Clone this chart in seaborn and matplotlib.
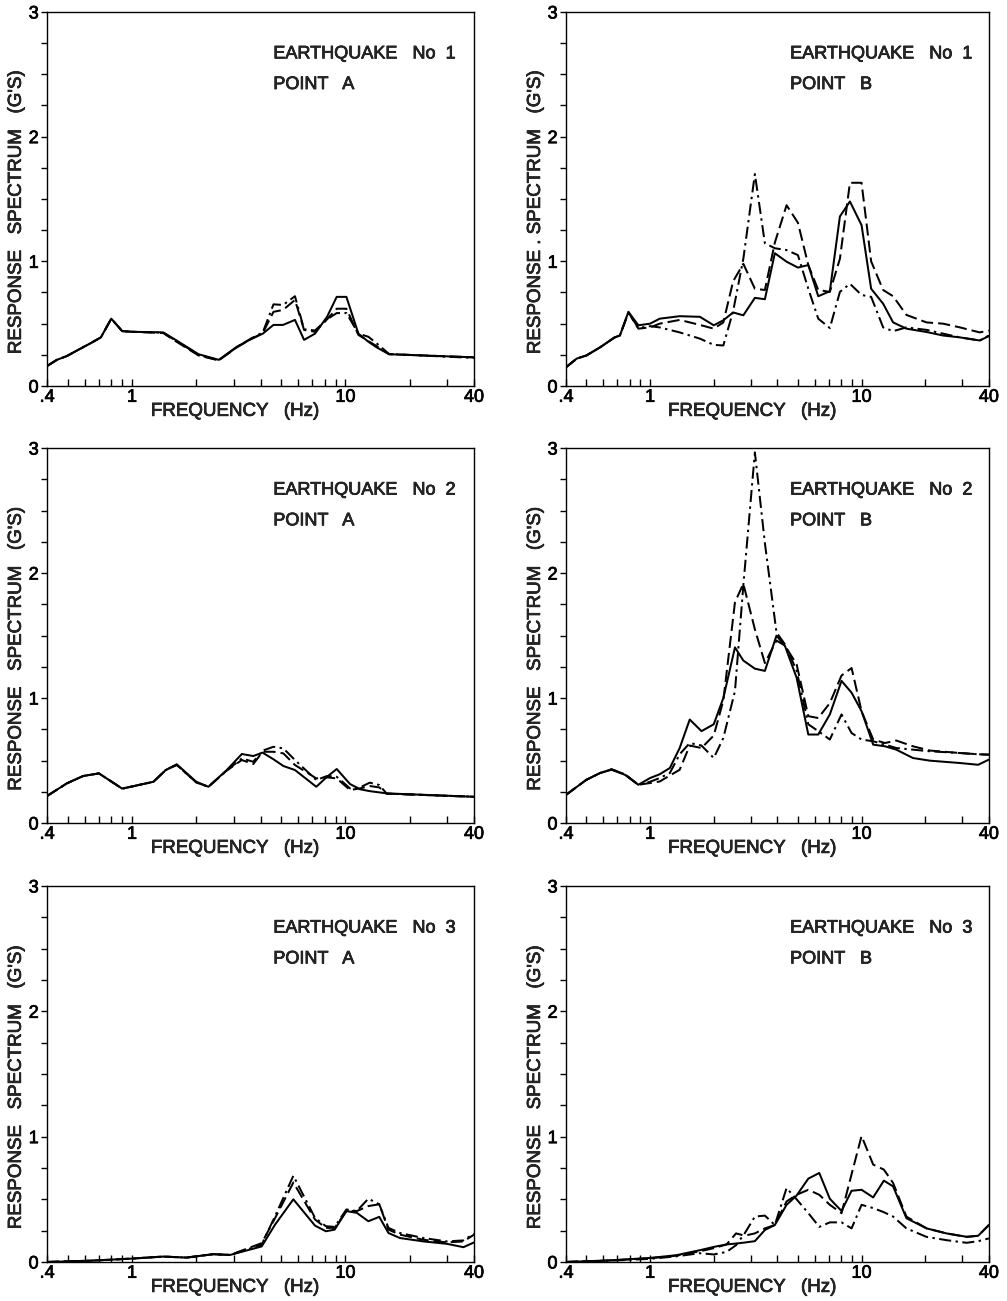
import numpy as np
import pandas as pd
import matplotlib
matplotlib.use("Agg")
import matplotlib.pyplot as plt
import matplotlib.patheffects as pe
import seaborn as sns
from matplotlib.ticker import FixedLocator, NullFormatter

# ---------------- data ----------------
# Earthquake 1, point A
freq_1A = [0.4, 0.445, 0.495, 0.56, 0.635, 0.715, 0.8, 0.9, 1.0, 1.4, 1.6, 2.05, 2.55, 3.1, 3.6,
           4.1, 4.6, 5.1, 5.8, 6.4, 7.2, 8.2, 9.1, 10.1, 11.5, 12.8, 14.0, 16.0, 40]
solid_1A = [0.16, 0.21, 0.24, 0.29, 0.34, 0.39, 0.54, 0.44, 0.435, 0.43, 0.37, 0.255, 0.21, 0.315, 0.375,
            0.42, 0.49, 0.49, 0.53, 0.37, 0.42, 0.555, 0.715, 0.715, 0.42, 0.355, 0.31, 0.255, 0.23]
dashed_1A = [0.16, 0.21, 0.24, 0.29, 0.34, 0.39, 0.54, 0.44, 0.435, 0.425, 0.36, 0.245, 0.205, 0.31, 0.375,
             0.425, 0.595, 0.61, 0.69, 0.45, 0.435, 0.535, 0.62, 0.62, 0.41, 0.36, 0.32, 0.255, 0.23]
dashdot_1A = [0.16, 0.21, 0.24, 0.29, 0.34, 0.39, 0.54, 0.44, 0.435, 0.428, 0.365, 0.25, 0.207, 0.312, 0.38,
              0.43, 0.655, 0.65, 0.72, 0.455, 0.445, 0.535, 0.585, 0.585, 0.42, 0.395, 0.342, 0.257, 0.225]

# Earthquake 1, point B
freq_1B = [0.4, 0.45, 0.5, 0.58, 0.68, 0.72, 0.79, 0.88, 1.0, 1.11,
           1.38, 1.72, 2.0, 2.22, 2.47, 2.76, 3.13, 3.49, 3.89, 4.42,
           5.0, 5.6, 6.24, 7.08, 7.9, 8.81, 10.0, 11.1, 12.65, 14.1,
           16.3, 20.3, 24.3, 29.2, 36.2, 40]
solid_1B = [0.15, 0.22, 0.245, 0.31, 0.39, 0.405, 0.595, 0.487, 0.50, 0.54,
            0.56, 0.555, 0.487, 0.527, 0.59, 0.567, 0.707, 0.696, 1.065, 0.997,
            0.95, 0.97, 0.72, 0.76, 1.36, 1.48, 1.29, 0.78, 0.66, 0.51,
            0.46, 0.433, 0.405, 0.39, 0.365, 0.40]
dashed_1B = [0.15, 0.22, 0.245, 0.31, 0.39, 0.405, 0.59, 0.46, 0.47, 0.50,
             0.53, 0.49, 0.46, 0.51, 0.84, 0.98, 0.78, 0.77, 1.15, 1.45,
             1.31, 0.97, 0.77, 0.755, 1.02, 1.63, 1.63, 1.0, 0.77, 0.72,
             0.57, 0.51, 0.50, 0.47, 0.43, 0.445]
dashdot_1B = [0.15, 0.22, 0.245, 0.31, 0.39, 0.405, 0.59, 0.465, 0.48, 0.47,
              0.43, 0.38, 0.33, 0.325, 0.60, 1.02, 1.70, 1.145, 1.105, 1.09,
              1.05, 0.78, 0.54, 0.465, 0.755, 0.82, 0.73, 0.715, 0.47, 0.44,
              0.47, 0.45, 0.42, 0.39, 0.365, 0.405]

# Earthquake 2, point A
freq_2A = [0.4, 0.495, 0.59, 0.70, 0.9, 1.26, 1.44, 1.62, 2.0, 2.28, 2.78, 3.27, 3.7,
           4.09, 4.6, 5.12, 5.8, 7.3, 8.2, 9.1, 10.5, 11.7, 13.0, 14.4, 15.6, 40]
solid_2A = [0.216, 0.317, 0.376, 0.397, 0.275, 0.33, 0.424, 0.47, 0.33, 0.29, 0.424, 0.552, 0.536,
            0.563, 0.51, 0.456, 0.424, 0.29, 0.37, 0.432, 0.312, 0.27, 0.255, 0.245, 0.237, 0.21]
dashed_2A = [0.216, 0.317, 0.376, 0.397, 0.275, 0.33, 0.424, 0.465, 0.325, 0.29, 0.42, 0.504, 0.472,
             0.57, 0.57, 0.557, 0.464, 0.357, 0.365, 0.357, 0.264, 0.277, 0.296, 0.285, 0.235, 0.21]
dashdot_2A = [0.216, 0.317, 0.376, 0.397, 0.275, 0.33, 0.424, 0.465, 0.325, 0.29, 0.42, 0.517, 0.49,
              0.579, 0.61, 0.597, 0.504, 0.344, 0.376, 0.37, 0.277, 0.285, 0.323, 0.304, 0.235, 0.21]

# Earthquake 2, point B
freq_2B = [0.4, 0.5, 0.58, 0.657, 0.76, 0.88, 1.0, 1.11, 1.24, 1.38,
           1.54, 1.75, 2.0, 2.22, 2.52, 2.76, 3.13, 3.49, 3.96, 4.34,
           4.93, 5.6, 6.24, 7.08, 8.04, 8.97, 10.0, 11.35, 12.9, 14.6,
           17.5, 21.0, 29.2, 35.6, 40]
solid_2B = [0.225, 0.346, 0.40, 0.426, 0.386, 0.306, 0.36, 0.39, 0.44, 0.60,
            0.828, 0.735, 0.79, 1.0, 1.405, 1.30, 1.235, 1.217, 1.499, 1.418,
            1.163, 0.708, 0.708, 0.869, 1.137, 1.043, 0.895, 0.627, 0.614, 0.587,
            0.52, 0.499, 0.48, 0.466, 0.507]
dashed_2B = [0.225, 0.346, 0.40, 0.43, 0.39, 0.306, 0.32, 0.332, 0.38, 0.426,
             0.62, 0.60, 0.70, 0.98, 1.767, 1.914, 1.55, 1.28, 1.46, 1.42,
             1.27, 0.855, 0.84, 0.96, 1.18, 1.24, 0.895, 0.668, 0.64, 0.66,
             0.614, 0.58, 0.56, 0.55, 0.547]
dashdot_2B = [0.225, 0.346, 0.40, 0.43, 0.39, 0.306, 0.33, 0.36, 0.40, 0.55,
              0.64, 0.62, 0.52, 0.68, 1.056, 1.9, 2.965, 2.24, 1.525, 1.43,
              1.22, 0.79, 0.735, 0.668, 0.869, 0.72, 0.668, 0.654, 0.627, 0.60,
              0.587, 0.574, 0.56, 0.55, 0.547]

# Earthquake 3, point A
freq_3A = [0.4, 0.636, 1.0, 1.4, 1.8, 2.4, 2.88, 4.05, 4.68, 5.7, 7.2, 8.1, 8.9, 10.1, 11.3,
           12.8, 14.4, 15.9, 18.0, 23.2, 29.8, 35.7, 40]
solid_3A = [0.0, 0.01, 0.027, 0.043, 0.035, 0.062, 0.056, 0.124, 0.298, 0.50, 0.29, 0.245, 0.258, 0.406,
            0.392, 0.325, 0.36, 0.231, 0.191, 0.164, 0.145, 0.118, 0.156]
dashed_3A = [0.0, 0.01, 0.027, 0.043, 0.035, 0.062, 0.056, 0.15, 0.35, 0.634, 0.339, 0.272, 0.272, 0.406,
             0.406, 0.446, 0.46, 0.258, 0.218, 0.177, 0.156, 0.164, 0.218]
dashdot_3A = [0.0, 0.01, 0.027, 0.043, 0.035, 0.062, 0.056, 0.137, 0.366, 0.688, 0.352, 0.285, 0.28, 0.419,
              0.406, 0.505, 0.46, 0.272, 0.231, 0.191, 0.164, 0.172, 0.226]

# Earthquake 3, point B
freq_3B = [0.4, 0.646, 1.0, 1.33, 1.72, 2.0, 2.3, 2.55, 2.8, 3.13,
           3.49, 3.89, 4.42, 4.93, 5.6, 6.31, 7.08, 8.04, 8.97, 10.0,
           11.35, 12.75, 14.1, 16.3, 20.3, 25.2, 31.4, 35.6, 40]
solid_3B = [0.0, 0.013, 0.032, 0.054, 0.094, 0.12, 0.14, 0.147, 0.155, 0.166,
            0.255, 0.295, 0.456, 0.53, 0.665, 0.71, 0.504, 0.407, 0.568, 0.576,
            0.515, 0.649, 0.603, 0.349, 0.268, 0.228, 0.201, 0.209, 0.295]
dashed_3B = [0.0, 0.012, 0.03, 0.05, 0.085, 0.11, 0.14, 0.228, 0.21, 0.228,
             0.268, 0.295, 0.483, 0.536, 0.576, 0.536, 0.456, 0.389, 0.70, 1.005,
             0.777, 0.737, 0.63, 0.362, 0.268, 0.228, 0.2, 0.209, 0.295]
dashdot_3B = [0.0, 0.01, 0.025, 0.045, 0.07, 0.06, 0.08, 0.134, 0.228, 0.362,
              0.37, 0.295, 0.59, 0.50, 0.39, 0.28, 0.316, 0.316, 0.268, 0.456,
              0.43, 0.397, 0.362, 0.268, 0.2, 0.174, 0.153, 0.166, 0.188]

x_major = [0.4, 1, 10, 40]
x_major_labels = [".4", "1", "10", "40"]
x_minor = [0.5, 0.6, 0.7, 0.8, 0.9, 2, 3, 4, 5, 6, 7, 8, 9, 20, 30]
y_major = [0, 1, 2, 3]

titles = [("EARTHQUAKE   No  1", "POINT   A"), ("EARTHQUAKE   No  1", "POINT   B"),
          ("EARTHQUAKE   No  2", "POINT   A"), ("EARTHQUAKE   No  2", "POINT   B"),
          ("EARTHQUAKE   No  3", "POINT   A"), ("EARTHQUAKE   No  3", "POINT   B")]
ylabels = ["RESPONSE   SPECTRUM   (G'S)", "RESPONSE . SPECTRUM   (G'S)",
           "RESPONSE   SPECTRUM   (G'S)", "RESPONSE   SPECTRUM   (G'S)",
           "RESPONSE   SPECTRUM   (G'S)", "RESPONSE   SPECTRUM   (G'S)"]
xlabel = "FREQUENCY   (Hz)"

panels = [
    (freq_1A, solid_1A, dashed_1A, dashdot_1A),
    (freq_1B, solid_1B, dashed_1B, dashdot_1B),
    (freq_2A, solid_2A, dashed_2A, dashdot_2A),
    (freq_2B, solid_2B, dashed_2B, dashdot_2B),
    (freq_3A, solid_3A, dashed_3A, dashdot_3A),
    (freq_3B, solid_3B, dashed_3B, dashdot_3B),
]

# ---------------- styling ----------------
sns.set_theme(style="ticks")
plt.rcParams["font.family"] = ["Liberation Sans", "DejaVu Sans"]
plt.rcParams["axes.linewidth"] = 1.0

heavy = [pe.withStroke(linewidth=0.5, foreground="black")]

fig = plt.figure(figsize=(10.07, 13.01), dpi=100)

lefts = [0.0467, 0.562]
widths = [0.424, 0.420]
bottoms = [0.7033, 0.3674, 0.0300]
heights = [0.2875, 0.2882, 0.2890]

dash_map = {"solid": "", "dashed": (6, 2.5), "dashdot": (6, 2.2, 1.2, 2.2)}

for i, (freq, s, d, dd) in enumerate(panels):
    r, c = divmod(i, 2)
    ax = fig.add_axes([lefts[c], bottoms[r], widths[c], heights[r]])
    n = len(freq)
    df = pd.DataFrame({
        "freq": np.tile(freq, 3),
        "value": np.concatenate([s, d, dd]),
        "series": np.repeat(["solid", "dashed", "dashdot"], n),
    })
    sns.lineplot(data=df, x="freq", y="value", style="series",
                 style_order=["dashdot", "dashed", "solid"],
                 dashes=dash_map, color="black", linewidth=1.45,
                 estimator=None, sort=False, legend=False, ax=ax)
    ax.set_xscale("log")
    ax.set_xlim(0.4, 40)
    ax.set_ylim(0, 3)
    ax.set_xticks(x_major)
    ax.set_xticklabels(x_major_labels)
    ax.xaxis.set_minor_locator(FixedLocator(x_minor))
    ax.xaxis.set_minor_formatter(NullFormatter())
    ax.set_yticks(y_major)
    ax.set_yticks(np.arange(0, 3.01, 0.25), minor=True)
    ax.tick_params(axis="x", which="both", direction="in", length=5, width=1,
                   pad=2, labelsize=13, top=False, colors="black")
    ax.tick_params(axis="y", which="both", direction="out", length=4, width=1,
                   pad=2, labelsize=13, right=False, colors="black")
    for sp in ax.spines.values():
        sp.set_color("black")
        sp.set_linewidth(1.0)
    ax.set_xlabel(xlabel, fontsize=13.5, path_effects=heavy)
    ax.xaxis.set_label_coords(0.44, -0.045)
    ax.set_ylabel(ylabels[i], fontsize=13.5, path_effects=heavy)
    ax.yaxis.set_label_coords(-0.052, 0.465)
    for lab in ax.get_xticklabels() + ax.get_yticklabels():
        lab.set_path_effects(heavy)
    t1, t2 = titles[i]
    ax.text(0.53, 0.888, t1, transform=ax.transAxes, ha="left", va="center",
            fontsize=13, path_effects=heavy)
    ax.text(0.53, 0.806, t2, transform=ax.transAxes, ha="left", va="center",
            fontsize=13, path_effects=heavy)

fig.savefig("out.png", dpi=100)
